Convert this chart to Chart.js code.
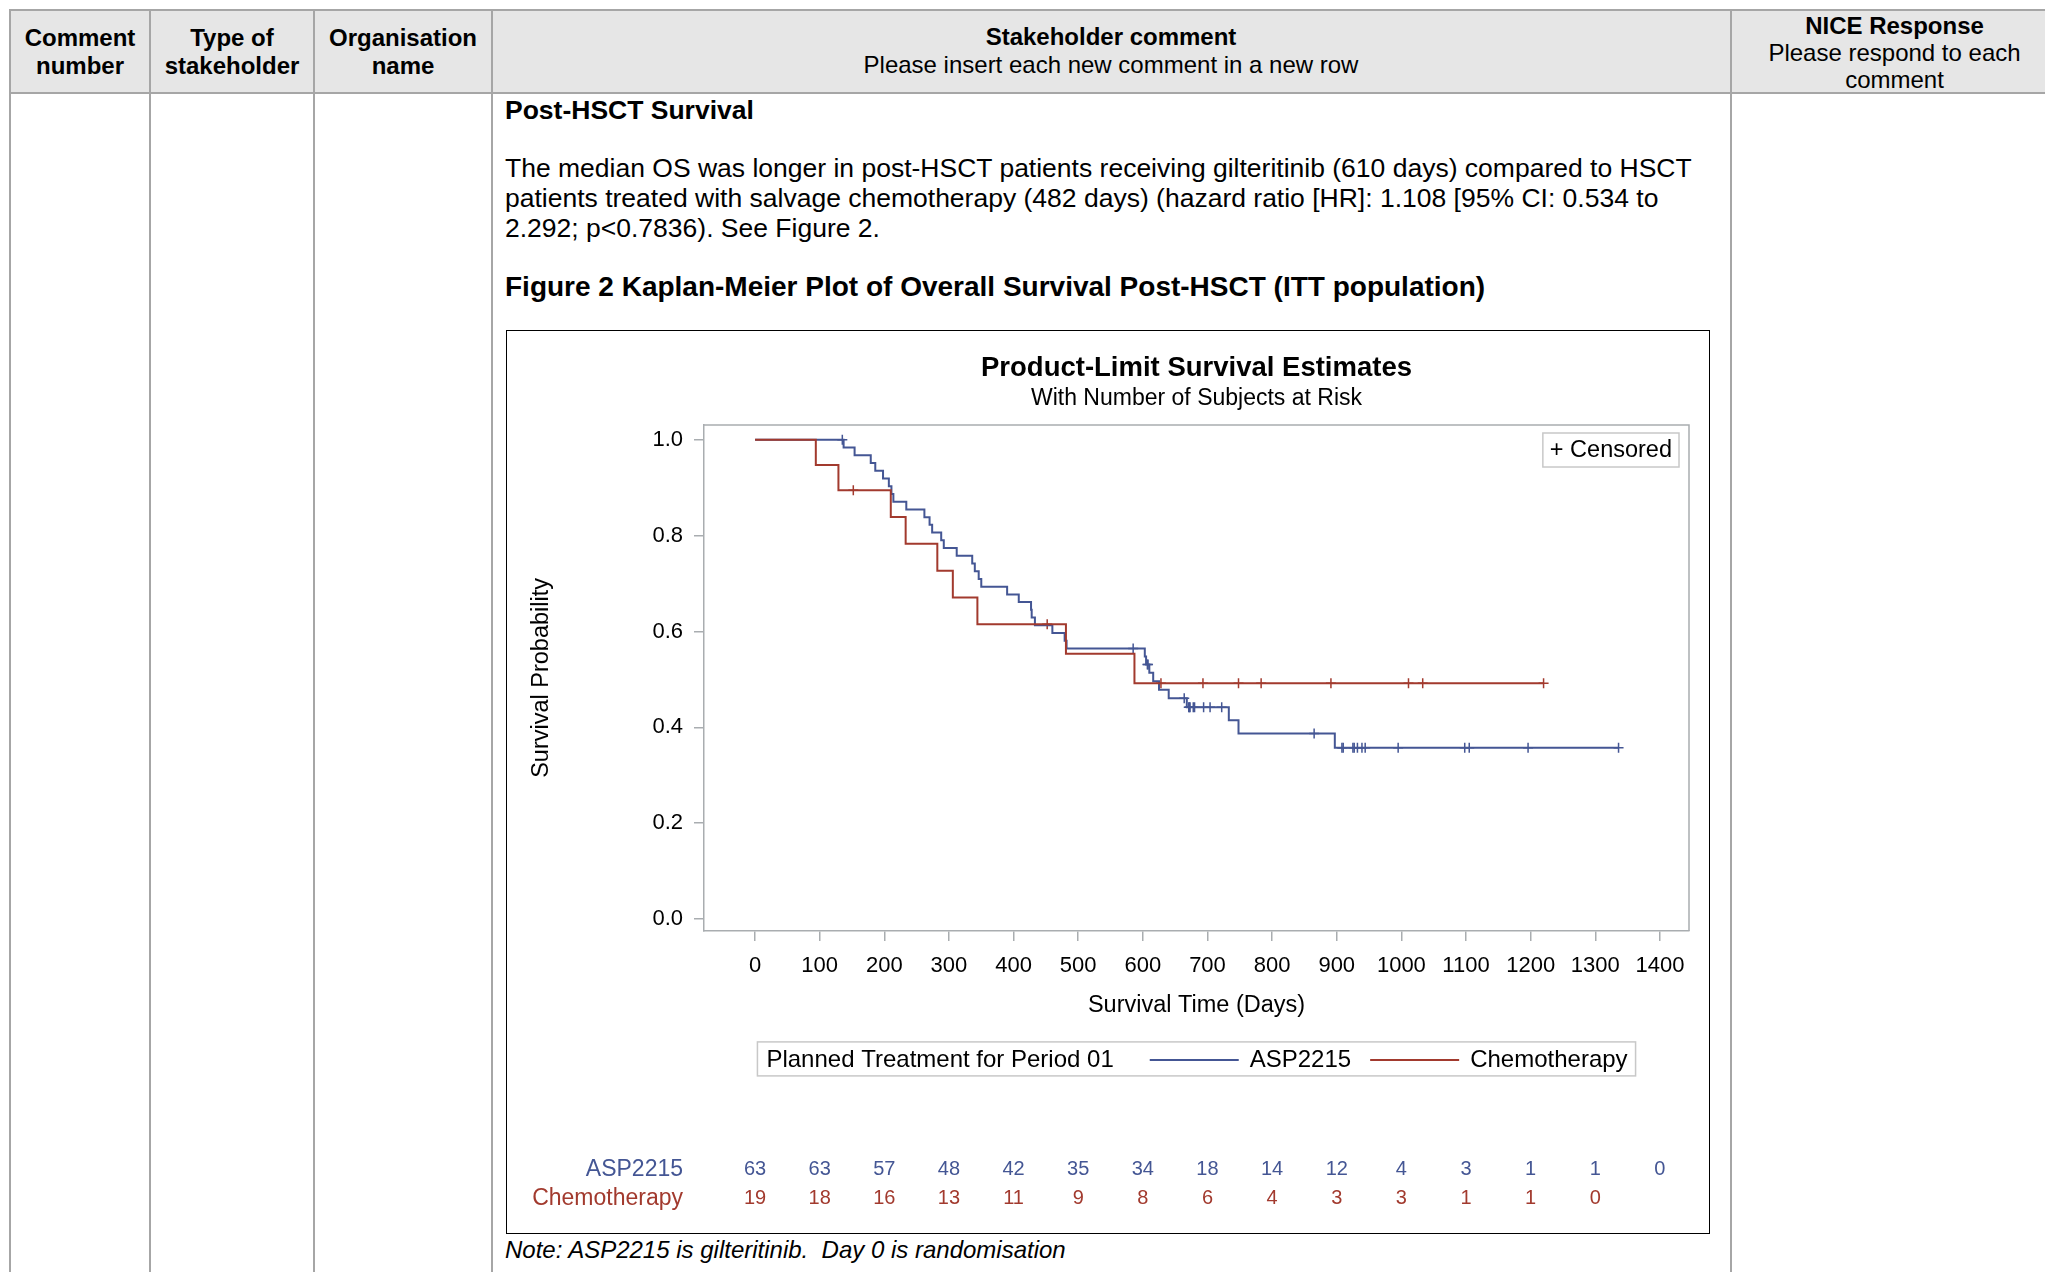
<!DOCTYPE html>
<html>
<head>
<meta charset="utf-8">
<title>Figure 2 Kaplan-Meier Plot of Overall Survival Post-HSCT</title>
<script src="https://cdn.jsdelivr.net/npm/chart.js@4.4.0/dist/chart.umd.min.js"></script>
<style>
  html, body { margin: 0; padding: 0; background: #fff; }
  body {
    width: 2045px; height: 1272px; position: relative; overflow: hidden;
    font-family: "Liberation Sans", Arial, sans-serif; color: #000;
  }
  .ab { position: absolute; white-space: nowrap; }
  .vl { position: absolute; top: 10px; bottom: 0; width: 2px; background: #a6a6a6; }
  .hl { position: absolute; left: 9px; width: 2100px; height: 2px; background: #a6a6a6; }
  .hdr { position: absolute; text-align: center; font-size: 24px; line-height: 28px; }
  .b { font-weight: bold; }
  .txt { font-size: 26.5px; }
  #figbox { position: absolute; left: 506px; top: 330px; width: 1204px; height: 904px;
            border: 1px solid #000; box-sizing: border-box; }
  #km { position: absolute; left: 0; top: 0; }
</style>
</head>
<body>

<!-- table frame -->
<div class="ab" style="left:10px;top:11px;width:2100px;height:82px;background:#e6e6e6"></div>
<div class="hl" style="top:9px"></div>
<div class="hl" style="top:92px"></div>
<div class="vl" style="left:9px"></div>
<div class="vl" style="left:149px"></div>
<div class="vl" style="left:313px"></div>
<div class="vl" style="left:491px"></div>
<div class="vl" style="left:1730px"></div>

<!-- header cells -->
<div class="hdr b" style="left:10px;width:140px;top:23.5px">Comment<br>number</div>
<div class="hdr b" style="left:150px;width:164px;top:23.5px">Type of<br>stakeholder</div>
<div class="hdr b" style="left:314px;width:178px;top:23.5px">Organisation<br>name</div>
<div class="hdr" style="left:492px;width:1238px;top:22.5px"><span class="b">Stakeholder comment</span><br>Please insert each new comment in a new row</div>
<div class="hdr" style="left:1732px;width:325px;top:11.5px;line-height:27.3px"><span class="b">NICE Response</span><br>Please respond to each<br>comment</div>

<!-- comment text -->
<div class="ab b txt" style="left:505px;top:95px;line-height:30px">Post-HSCT Survival</div>
<div class="ab txt" style="left:505px;top:153px;line-height:30px">The median OS was longer in post-HSCT patients receiving gilteritinib (610 days) compared to HSCT<br>patients treated with salvage chemotherapy (482 days) (hazard ratio [HR]: 1.108 [95% CI: 0.534 to<br>2.292; p&lt;0.7836). See Figure 2.</div>
<div class="ab b" style="left:505px;top:272px;line-height:30px;font-size:28px">Figure 2 Kaplan-Meier Plot of Overall Survival Post-HSCT (ITT population)</div>

<div id="figbox"><canvas id="km" width="1202" height="902" style="width:1202px;height:902px"></canvas></div>

<div class="ab" style="left:505px;top:1235px;line-height:30px;font-size:24px;font-style:italic">Note: ASP2215 is gilteritinib.&nbsp; Day 0 is randomisation</div>

<script>
// axis ticks
const xTicks = [0, 100, 200, 300, 400, 500, 600, 700, 800, 900, 1000, 1100, 1200, 1300, 1400];
const yTicks = [0, 0.2, 0.4, 0.6, 0.8, 1.0];

// ASP2215: event times (days) and survival after each step
const aspTimes = [0, 137, 154, 179, 186, 198, 207, 211, 214, 234, 262, 270, 274, 288, 292, 312, 336, 340, 346, 350,
  390, 408, 427, 428, 433, 460, 479, 482, 603, 605, 610, 616, 625, 640, 668, 733, 748, 897];
const aspSurv = [1, 0.9839, 0.9677, 0.9516, 0.9355, 0.9194, 0.9032, 0.8871, 0.8710, 0.8548, 0.8387, 0.8226, 0.8065,
  0.7903, 0.7742, 0.7581, 0.7419, 0.7258, 0.7097, 0.6935, 0.6774, 0.6613, 0.6452, 0.6290, 0.6129, 0.5968, 0.5806,
  0.5645, 0.5479, 0.5313, 0.5136, 0.4959, 0.4782, 0.4605, 0.4421, 0.4145, 0.3868, 0.3571];
const aspCensor = [135, 585, 607, 608, 664, 671, 672, 673, 678, 680, 694, 704, 722, 865, 908, 910, 925, 927, 932,
  939, 944, 995, 1098, 1105, 1196, 1336];

// Chemotherapy
const chemoTimes = [0, 94, 129, 210, 233, 282, 306, 344, 481, 587];
const chemoSurv = [1, 0.9474, 0.8947, 0.8388, 0.7829, 0.7270, 0.6711, 0.6151, 0.5536, 0.4921];
const chemoCensor = [152, 452, 628, 693, 748, 783, 891, 1011, 1033, 1220];

// number of subjects at risk at each x tick
const aspRisk = [63, 63, 57, 48, 42, 35, 34, 18, 14, 12, 4, 3, 1, 1, 0];
const chemoRisk = [19, 18, 16, 13, 11, 9, 8, 6, 4, 3, 3, 1, 1, 0];

const blue = '#445694';
const red = '#A23A2E';
const frameColor = '#a9adb0';
const FONT = '"Liberation Sans", Arial, sans-serif';

Chart.defaults.font.family = FONT;

function stepPoints(times, surv, censor) {
  const pts = times.map((t, i) => ({ x: t, y: surv[i] }));
  const last = Math.max(times[times.length - 1], censor[censor.length - 1]);
  pts.push({ x: last, y: surv[surv.length - 1] });
  return pts;
}

function survAt(times, surv, t) {
  let s = surv[0];
  times.forEach((tt, i) => { if (tt <= t) s = surv[i]; });
  return s;
}

function censorPoints(times, surv, censor) {
  return censor.map(t => ({ x: t, y: survAt(times, surv, t) }));
}

const kmExtras = {
  id: 'kmExtras',
  afterDraw(chart) {
    const { ctx, chartArea: ca, scales: { x } } = chart;
    ctx.save();

    // top and right sides of the frame
    ctx.strokeStyle = frameColor;
    ctx.lineWidth = 1.5;
    ctx.beginPath();
    ctx.moveTo(ca.left, ca.top);
    ctx.lineTo(ca.right, ca.top);
    ctx.lineTo(ca.right, ca.bottom);
    ctx.stroke();

    // "+ Censored" inset
    ctx.font = '23.5px ' + FONT;
    ctx.textBaseline = 'middle';
    const cTxt = '+ Censored';
    const cw = ctx.measureText(cTxt).width + 14;
    ctx.strokeStyle = '#c8c8c8';
    ctx.strokeRect(ca.right - 10 - cw, ca.top + 8, cw, 34);
    ctx.fillStyle = '#000';
    ctx.textAlign = 'left';
    ctx.fillText(cTxt, ca.right - 10 - cw + 7, ca.top + 26);

    // legend under the axis
    ctx.font = '24px ' + FONT;
    const lgTitle = 'Planned Treatment for Period 01';
    const items = [{ label: 'ASP2215', color: blue, gap: 36 }, { label: 'Chemotherapy', color: red, gap: 19 }];
    const lineLen = 89;
    let w = 9 + ctx.measureText(lgTitle).width;
    items.forEach(it => { w += it.gap + lineLen + 11 + ctx.measureText(it.label).width; });
    w += 8;
    const lgTop = ca.bottom + 111;
    const lgH = 34;
    let lx = (ca.left + ca.right) / 2 - w / 2;
    ctx.strokeStyle = '#c8c8c8';
    ctx.lineWidth = 1.5;
    ctx.strokeRect(lx, lgTop, w, lgH);
    const ly = lgTop + lgH / 2 + 1;
    lx += 9;
    ctx.fillStyle = '#000';
    ctx.fillText(lgTitle, lx, ly);
    lx += ctx.measureText(lgTitle).width;
    items.forEach(it => {
      lx += it.gap;
      ctx.strokeStyle = it.color;
      ctx.lineWidth = 2;
      ctx.beginPath();
      ctx.moveTo(lx, ly);
      ctx.lineTo(lx + lineLen, ly);
      ctx.stroke();
      lx += lineLen + 11;
      ctx.fillStyle = '#000';
      ctx.fillText(it.label, lx, ly);
      lx += ctx.measureText(it.label).width;
    });

    // number at risk
    const rows = [
      { label: 'ASP2215', vals: aspRisk, color: blue, y: ca.bottom + 238.6 },
      { label: 'Chemotherapy', vals: chemoRisk, color: red, y: ca.bottom + 267.6 }
    ];
    rows.forEach(r => {
      ctx.fillStyle = r.color;
      ctx.font = '23px ' + FONT;
      ctx.textAlign = 'right';
      ctx.fillText(r.label, ca.left - 21, r.y);
      ctx.font = '20px ' + FONT;
      ctx.textAlign = 'center';
      r.vals.forEach((v, i) => ctx.fillText(String(v), x.getPixelForValue(xTicks[i]), r.y));
    });

    ctx.restore();
  }
};

new Chart(document.getElementById('km'), {
  type: 'line',
  data: {
    datasets: [
      {
        label: 'Chemotherapy',
        data: stepPoints(chemoTimes, chemoSurv, chemoCensor),
        stepped: 'before',
        borderColor: red,
        borderWidth: 2,
        pointRadius: 0,
        fill: false
      },
      {
        label: 'ASP2215',
        data: stepPoints(aspTimes, aspSurv, aspCensor),
        stepped: 'before',
        borderColor: blue,
        borderWidth: 2,
        pointRadius: 0,
        fill: false
      },
      {
        type: 'scatter',
        label: 'Chemotherapy censored',
        data: censorPoints(chemoTimes, chemoSurv, chemoCensor),
        showLine: false,
        pointStyle: 'cross',
        pointRadius: 5,
        pointBorderWidth: 1.5,
        borderColor: red,
        backgroundColor: red
      },
      {
        type: 'scatter',
        label: 'ASP2215 censored',
        data: censorPoints(aspTimes, aspSurv, aspCensor),
        showLine: false,
        pointStyle: 'cross',
        pointRadius: 5,
        pointBorderWidth: 1.5,
        borderColor: blue,
        backgroundColor: blue
      }
    ]
  },
  options: {
    responsive: false,
    animation: false,
    events: [],
    layout: { padding: { top: 21, left: 16.5, right: 20, bottom: 209 } },
    plugins: {
      legend: { display: false },
      tooltip: { enabled: false },
      title: {
        display: true,
        fullSize: false,
        text: 'Product-Limit Survival Estimates',
        color: '#000',
        font: { size: 27.5, weight: 'bold' },
        padding: { top: 0, bottom: 0 }
      },
      subtitle: {
        display: true,
        fullSize: false,
        text: 'With Number of Subjects at Risk',
        color: '#000',
        font: { size: 23 },
        padding: { top: 0, bottom: 12.4 }
      }
    },
    scales: {
      x: {
        type: 'linear',
        min: -79,
        max: 1445,
        afterBuildTicks: s => { s.ticks = xTicks.map(v => ({ value: v })); },
        afterFit: s => { s.height = 93.1; },
        grid: { drawOnChartArea: false, drawTicks: true, tickLength: 10, color: frameColor, lineWidth: 1.5 },
        border: { display: true, color: frameColor, width: 1.5 },
        ticks: { color: '#000', font: { size: 22 }, padding: 12, maxRotation: 0, autoSkip: false, callback: v => String(v) },
        title: { display: true, text: 'Survival Time (Days)', color: '#000', font: { size: 23.5 }, padding: { top: 4, bottom: 4 } }
      },
      y: {
        type: 'linear',
        min: -0.025,
        max: 1.031,
        afterBuildTicks: s => { s.ticks = yTicks.map(v => ({ value: v })); },
        afterFit: s => { s.width = 180.5; },
        grid: { drawOnChartArea: false, drawTicks: true, tickLength: 10, color: frameColor, lineWidth: 1.5 },
        border: { display: true, color: frameColor, width: 1.5 },
        ticks: { color: '#000', font: { size: 22 }, padding: 11, callback: v => v.toFixed(1) },
        title: { display: true, text: 'Survival Probability', color: '#000', font: { size: 23.5 }, padding: { top: 4, bottom: 4 } }
      }
    }
  },
  plugins: [kmExtras]
});
</script>
</body>
</html>
